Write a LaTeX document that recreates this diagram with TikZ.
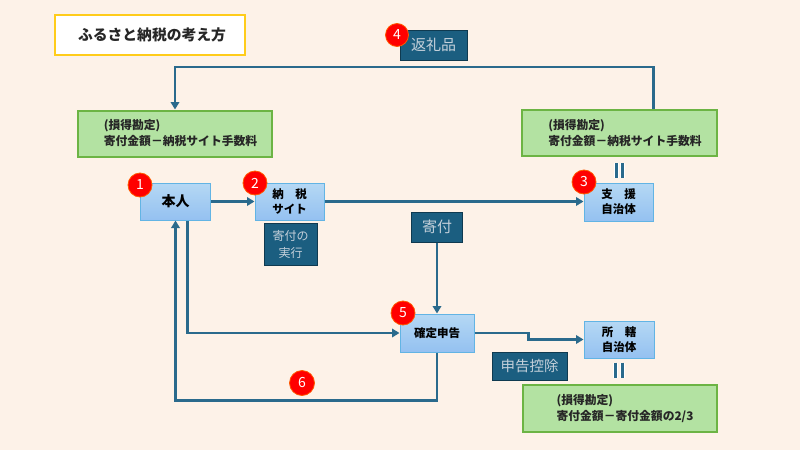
\documentclass[tikz,border=0pt]{standalone}
\usepackage{fontspec}
\setmainfont{Noto Sans CJK JP}
\usetikzlibrary{arrows.meta,calc}
\definecolor{bg}{HTML}{FDF2E8}
\definecolor{arr}{HTML}{2A6A8C}
\definecolor{darkbox}{HTML}{1B5E80}
\definecolor{darkedge}{HTML}{0F3A50}
\definecolor{darktext}{HTML}{C4D0DA}
\definecolor{bluefill}{HTML}{9CCBF0}
\definecolor{blueedge}{HTML}{62B4E4}
\definecolor{greenfill}{HTML}{B3E2A2}
\definecolor{greenedge}{HTML}{6CB444}
\definecolor{titleedge}{HTML}{FFCC1A}
\newcommand{\gpad}{\hspace*{11pt}}
\tikzset{
  bluebox/.style={draw=blueedge, line width=1pt, top color=bluefill!75!white, bottom color=bluefill!95!blue, inner sep=0pt, align=center, font=\bfseries\fontsize{11.5}{15}\selectfont, text=black},
  darkb/.style={draw=darkedge, line width=1pt, fill=darkbox, inner sep=0pt, align=center, font=\fontsize{15}{18}\selectfont, text=darktext},
  greenb/.style={draw=greenedge, line width=2pt, fill=greenfill, inner sep=0pt, align=left, font=\bfseries\fontsize{11.8}{16}\selectfont, text=black!85},
  conn/.style={draw=arr, line width=2.2pt, -{Triangle[width=8.5pt,length=7.5pt]}},
  badge/.style={circle, fill=red, draw=orange!70!red, line width=0.8pt, minimum size=24pt, inner sep=0pt, text=white, font=\fontsize{14}{14}\selectfont},
  eqbar/.style={draw=arr, line width=2.8pt, preaction={draw=white, line width=5pt}},
}
\begin{document}
\begin{tikzpicture}[x=1pt,y=-1pt]
\fill[bg] (0,0) rectangle (800,450);
\useasboundingbox (0,0) rectangle (800,450);

% title
\node[draw=titleedge, line width=2pt, fill=white, minimum width=190pt, minimum height=40pt, inner sep=0pt, font=\bfseries\fontsize{14.8}{16}\selectfont, text=black!85] (title) at (150,35) {\hspace*{4pt}ふるさと納税の考え方};

% boxes
\node[darkb, minimum width=67pt, minimum height=30pt] (henrei) at (433.5,45) {返礼品};
\node[greenb, minimum width=194pt, minimum height=46pt] (lg) at (175,133.5) {\gpad{}(損得勘定)\\\gpad{}寄付金額－納税サイト手数料};
\node[greenb, minimum width=195pt, minimum height=46pt] (rg) at (619.5,133) {\gpad{}(損得勘定)\\\gpad{}寄付金額－納税サイト手数料};
\node[bluebox, minimum width=70pt, minimum height=37pt, font=\bfseries\fontsize{14}{16}\selectfont] (honnin) at (175.5,201.5) {本人};
\node[bluebox, minimum width=69pt, minimum height=37pt] (site) at (289.5,201.5) {納　税\\サイト};
\node[darkb, minimum width=53pt, minimum height=42pt, font=\fontsize{12}{17}\selectfont] (jikko) at (290.5,244) {寄付の\\実行};
\node[bluebox, minimum width=69pt, minimum height=38pt] (shien) at (618.5,202) {支　援\\自治体};
\node[darkb, minimum width=51pt, minimum height=30pt] (kifu) at (437,227) {寄付};
\node[bluebox, minimum width=74pt, minimum height=38pt] (kakutei) at (437,333) {確定申告};
\node[bluebox, minimum width=70pt, minimum height=37pt] (shokatsu) at (619,339.5) {所　轄\\自治体};
\node[darkb, minimum width=75pt, minimum height=28pt, font=\fontsize{14.5}{17}\selectfont] (kojo) at (529.5,366) {申告控除};
\node[greenb, minimum width=194pt, minimum height=47pt] (bg2) at (619.5,408.5) {\gpad{}(損得勘定)\\\gpad{}寄付金額－寄付金額の2/3};

% connectors
\coordinate (rgtop) at ([xshift=34pt]rg.north);
\draw[conn] (rgtop) -- ++(0,-42) -| (lg.north);
\draw[conn] (honnin.east) -- (site.west);
\draw[conn] (site.east) -- (site.east -| shien.west);
\draw[conn] (kifu.south) -- (kakutei.north);
\coordinate (hdown) at ([xshift=12pt]honnin.south);
\draw[conn] (hdown) |- (kakutei.west);
\coordinate (bottomcorner) at ($(kakutei.south)+(0,48)$);
\draw[conn] (kakutei.south) -- (bottomcorner) -| (honnin.south);
\coordinate (kbend) at ($(kakutei.east)+(54,0)$);
\draw[conn] (kakutei.east) -- (kbend) -- (kbend |- shokatsu.west) -- (shokatsu.west);

% equals marks
\draw[eqbar] ([xshift=-3.2pt,yshift=-6pt]rg.south) -- ([xshift=-3.2pt,yshift=-21pt]rg.south);
\draw[eqbar] ([xshift=3.2pt,yshift=-6pt]rg.south) -- ([xshift=3.2pt,yshift=-21pt]rg.south);
\draw[eqbar] ([xshift=-3.2pt,yshift=-4pt]shokatsu.south) -- ([xshift=-3.2pt,yshift=-19pt]shokatsu.south);
\draw[eqbar] ([xshift=3.2pt,yshift=-4pt]shokatsu.south) -- ([xshift=3.2pt,yshift=-19pt]shokatsu.south);

% badges
\node[badge] (b1) at (140,185) {1};
\node[badge] (b2) at (255,183) {2};
\node[badge] (b3) at (584,182) {3};
\node[badge, minimum size=23pt] (b4) at (397,35) {4};
\node[badge] (b5) at (403,313) {5};
\node[badge, minimum size=25pt] (b6) at (302,383) {6};
\end{tikzpicture}
\end{document}
